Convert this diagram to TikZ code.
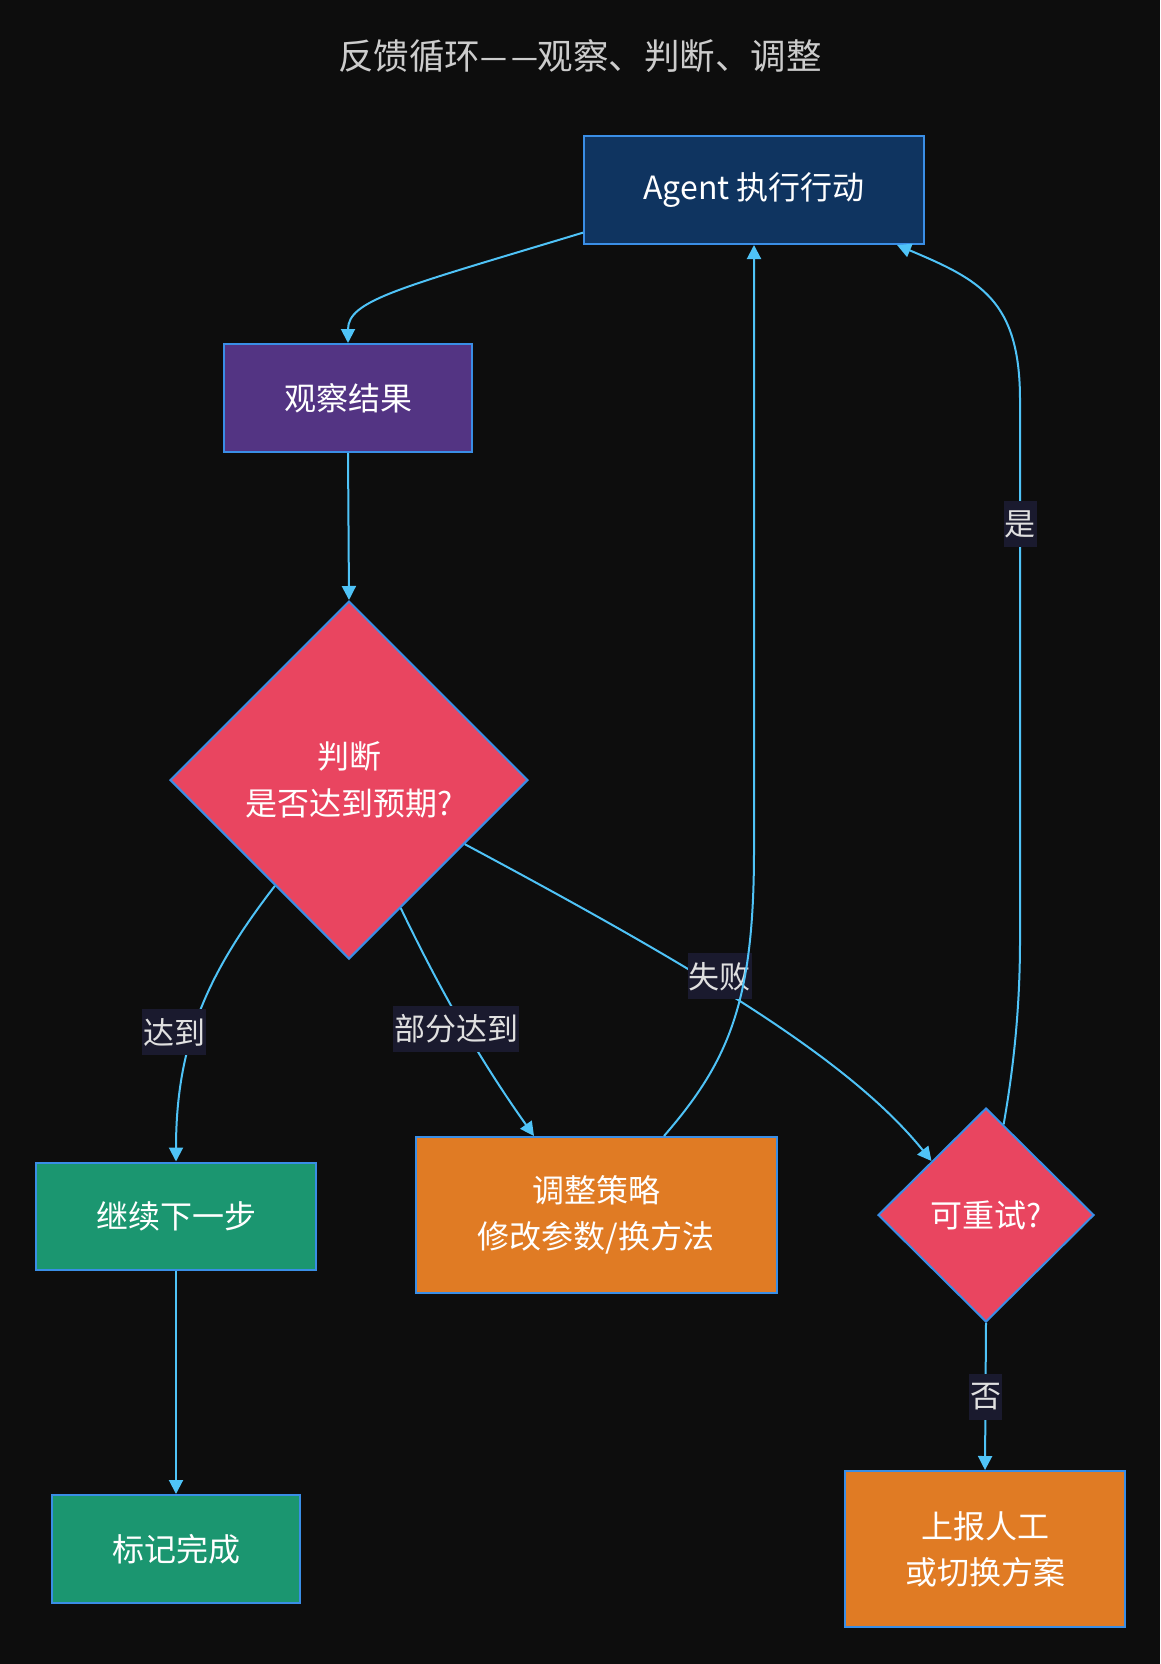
\documentclass[tikz,border=0pt]{standalone}
\usepackage{fontspec}
\usepackage{graphicx}
\setmainfont{Noto Sans CJK SC}
\usetikzlibrary{shapes.geometric,arrows.meta}
\definecolor{bgc}{HTML}{0D0D0D}
\definecolor{navy}{HTML}{0F3460}
\definecolor{purp}{HTML}{533483}
\definecolor{pinkred}{HTML}{E94560}
\definecolor{greenc}{HTML}{1B9670}
\definecolor{orangec}{HTML}{E07B24}
\definecolor{nodeborder}{HTML}{3A8EE6}
\definecolor{edgeblue}{HTML}{4FC3F7}
\definecolor{lblbg}{HTML}{1A1A2E}
\definecolor{lbltext}{HTML}{E0E0E0}
\definecolor{titlegray}{HTML}{CCCCCC}
\newcommand{\shortdash}{\scalebox{0.85}[1]{—}}
\begin{document}
\begin{tikzpicture}[x=1pt,y=-1pt,
  box/.style={draw=nodeborder, line width=2pt, text=white, align=center, inner sep=0pt, font=\fontsize{32}{46}\selectfont},
  dia/.style={diamond, aspect=1, draw=nodeborder, line width=2pt, fill=pinkred, text=white, align=center, inner sep=0pt, font=\fontsize{32}{47}\selectfont},
  conn/.style={draw=edgeblue, line width=2pt, -{Triangle[length=14pt,width=14pt]}},
  lbl/.style={fill=lblbg, text=lbltext, inner xsep=1pt, inner ysep=0pt, minimum height=46pt, font=\fontsize{31}{31}\selectfont}
]
\fill[bgc] (0,0) rectangle (1160,1664);
\useasboundingbox (0,0) rectangle (1160,1664);

\node[text=titlegray, font=\fontsize{35.5}{36}\selectfont] (title) at (580,56) {反馈循环\shortdash\hspace{4pt}\shortdash 观察、判断、调整};

\node[box, fill=navy, minimum width=340pt, minimum height=108pt] (agent) at (754,190) {Agent 执行行动};
\node[box, fill=purp, minimum width=248pt, minimum height=108pt] (observe) at (348,398) {观察结果};
\node[dia, minimum width=358pt, minimum height=358pt] (judge) at (349,780) {判断\\是否达到预期?};
\node[box, fill=greenc, minimum width=280pt, minimum height=107pt] (next) at (176,1216) {继续下一步};
\node[box, fill=greenc, minimum width=248pt, minimum height=108pt] (done) at (176,1549) {标记完成};
\node[box, fill=orangec, minimum width=361pt, minimum height=156pt] (adjust) at (596,1215) {调整策略\\修改参数/换方法};
\node[dia, minimum width=216pt, minimum height=214pt] (retry) at (986,1215) {可重试?};
\node[box, fill=orangec, minimum width=280pt, minimum height=156pt] (report) at (985,1549) {上报人工\\或切换方案};

\draw[conn] (agent.194.2) .. controls (400,288) and (348,300) .. (observe.north);
\draw[conn] (observe.south) -- (judge.north);
\draw[conn] (judge.235) .. controls (210,970) and (176,1040) .. node[lbl, pos=0.585, xshift=-19pt] {达到} (next.north);
\draw[conn] (judge.292) .. controls (440,990) and (480,1060) .. node[lbl, pos=0.52, xshift=-8pt] {部分达到} ([xshift=-62pt]adjust.north);
\draw[conn] (judge.331.5) .. controls (700,970) and (850,1060) .. node[lbl, pos=0.385, xshift=20pt] {失败} (retry.north west);
\draw[conn] ([xshift=68pt]adjust.north) .. controls (730,1060) and (754,1000) .. (754,850) -- (agent.south);
\draw[conn] (retry.79) .. controls (1015,1060) and (1020,1000) .. (1020,940) -- node[lbl, pos=0.77] {是} (1020,400) .. controls (1020,300) and (980,280) .. ([xshift=143pt]agent.south);
\draw[conn] (retry.south) -- node[lbl] {否} (report.north);
\draw[conn] (next.south) -- (done.north);
\end{tikzpicture}
\end{document}
